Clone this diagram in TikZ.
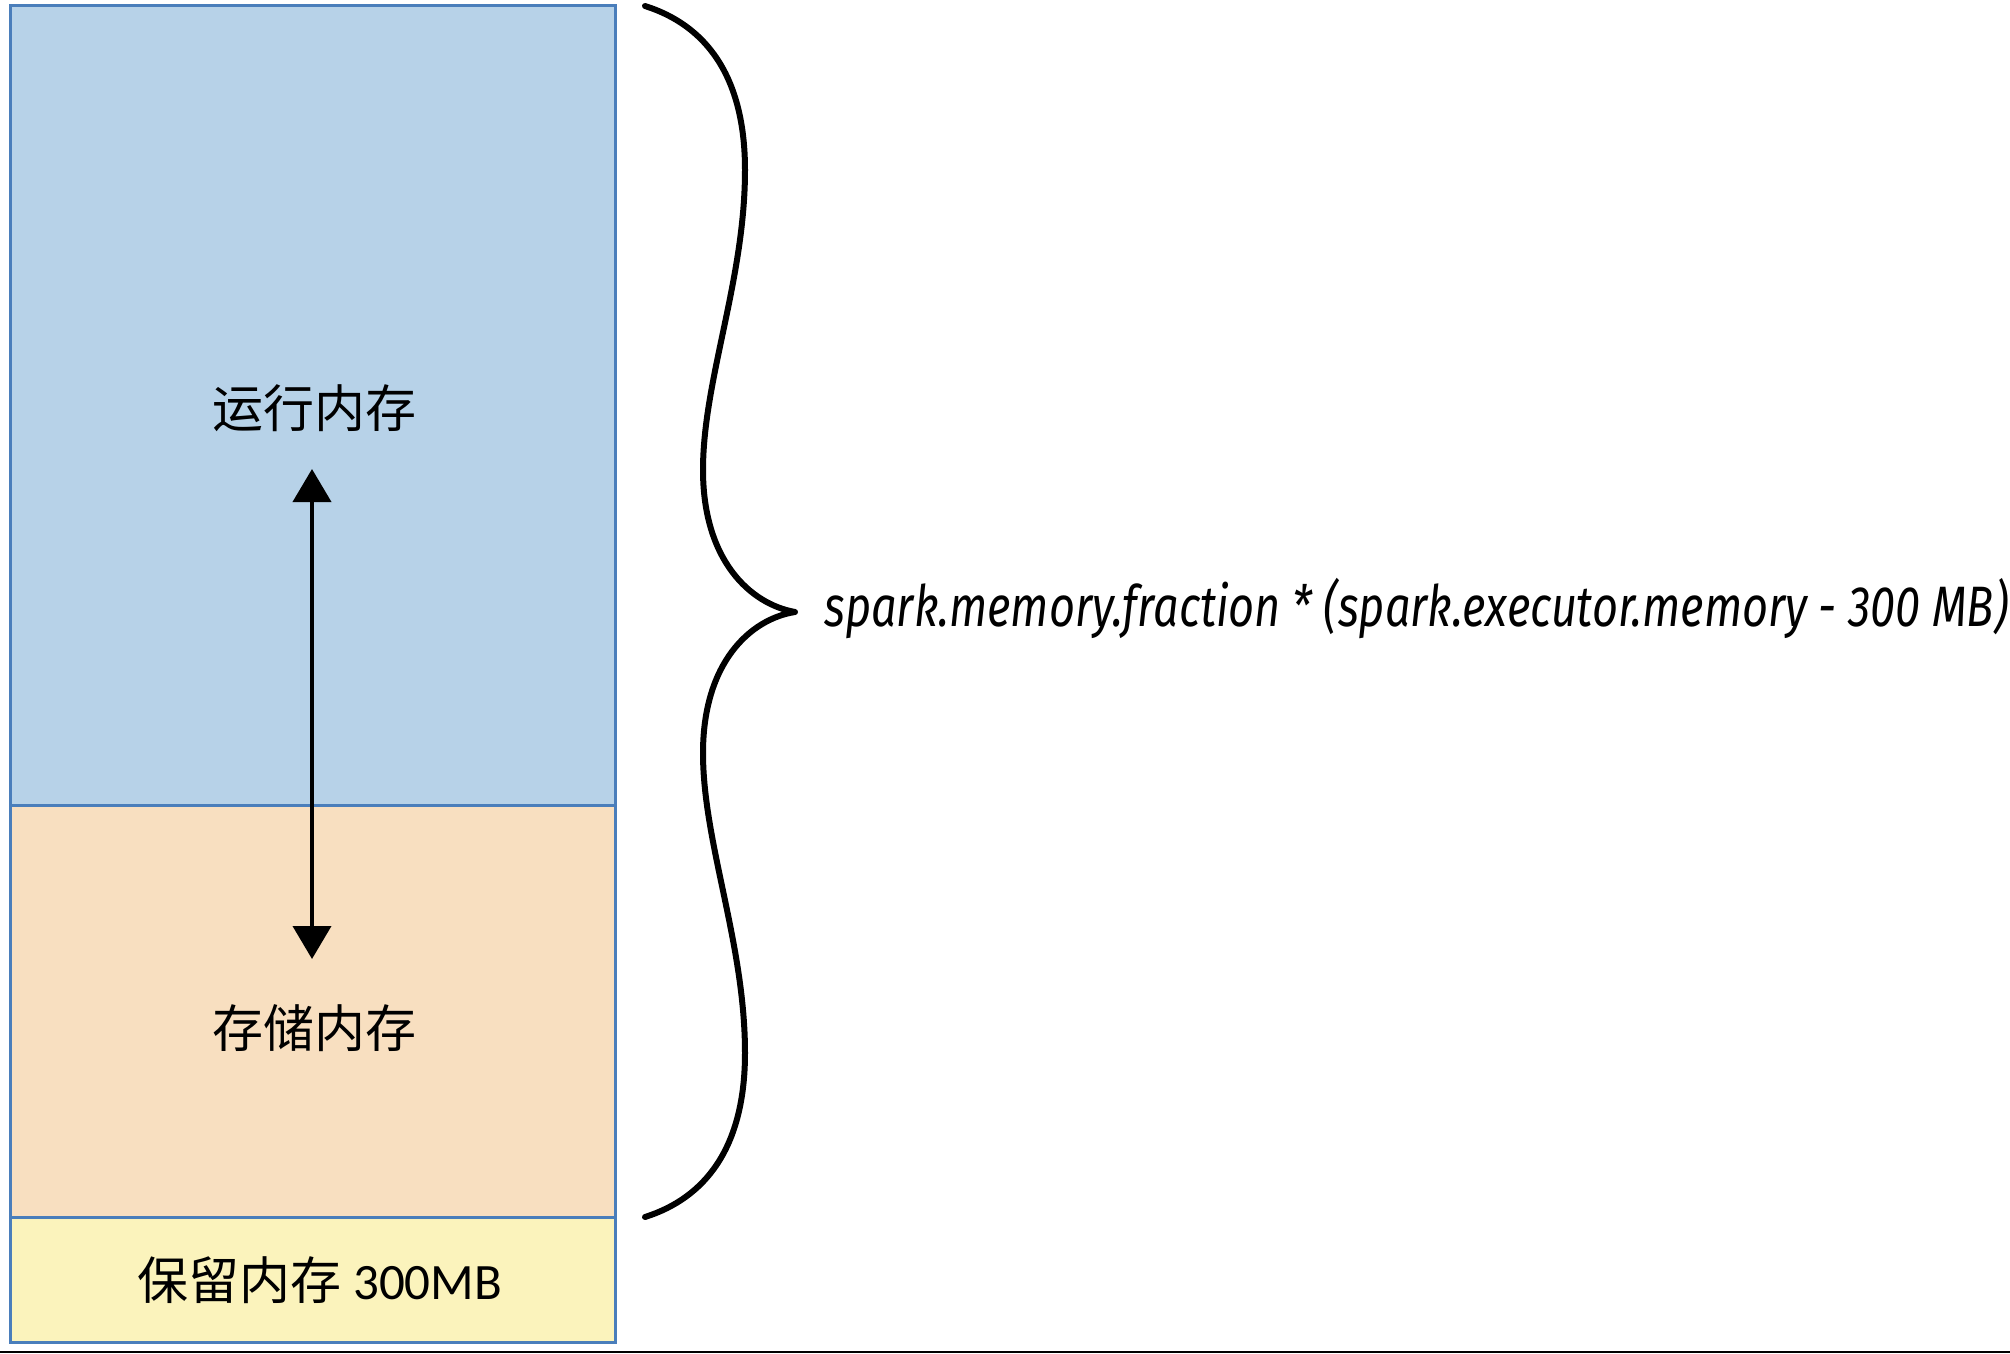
\documentclass[tikz,border=0pt]{standalone}
\usepackage{fontspec}
\usepackage{graphicx}
\usetikzlibrary{arrows.meta}
\newfontfamily\cjk{Noto Sans CJK SC}
\newfontfamily\latinfont{Carlito}
\newfontfamily\labelfont{Fira Sans}
\definecolor{execblue}{HTML}{B7D2E8}
\definecolor{storeorange}{HTML}{F8DFC0}
\definecolor{resyellow}{HTML}{FBF3BC}
\definecolor{borderblue}{HTML}{4A7EBB}
\tikzset{
  region/.style={draw=borderblue,line width=1.5pt},
  cjklabel/.style={font=\cjk\fontsize{25.5pt}{30pt}\selectfont,inner sep=0pt},
  bracestyle/.style={line width=3pt,line cap=round,line join=round},
  swaparrow/.style={line width=2pt,{Triangle[width=19pt,length=16.5pt]}-{Triangle[width=19pt,length=16.5pt]}}
}
\begin{document}
\begin{tikzpicture}[x=0.5pt,y=-0.5pt]
\useasboundingbox (0,0) rectangle (2010,1354);
% regions
\fill[execblue] (10,6) rectangle (615,805);
\fill[storeorange] (10,805) rectangle (615,1217);
\fill[resyellow] (10,1217) rectangle (615,1342);
\draw[region] (10,6) rectangle (615,1342);
\draw[region] (10,805) -- (615,805);
\draw[region] (10,1217) -- (615,1217);
% labels
\node[cjklabel] (exec) at (314,408) {运行内存};
\node[cjklabel] (store) at (314,1028) {存储内存};
\node[cjklabel] (reserved) at (320,1280) {保留内存 {\latinfont 300MB}};
% arrow
\coordinate (atop) at (312,469);
\coordinate (abot) at (312,959);
\draw[swaparrow] (atop) -- (abot);
% brace
\coordinate (btop) at (645,6);
\coordinate (btip) at (795,612);
\coordinate (bbot) at (645,1217);
\draw[bracestyle] (btop) .. controls (705,25) and (745,75) .. (745,170)
  .. controls (745,280) and (703,380) .. (703,470)
  .. controls (703,560) and (750,604) .. (btip)
  .. controls (750,619) and (703,663) .. (703,753)
  .. controls (703,843) and (745,943) .. (745,1053)
  .. controls (745,1148) and (705,1198) .. (bbot);
% formula
\node[anchor=base west,inner sep=0pt] (formula) at (824,626)
  {\resizebox{592pt}{\height}{\labelfont\itshape\fontsize{28.5pt}{32pt}\selectfont spark.memory.fraction * (spark.executor.memory - 300 MB)}};
% bottom edge line
\coordinate (el) at (0,1352);
\coordinate (er) at (2010,1352);
\draw[line width=1pt] (el) -- (er);
\end{tikzpicture}
\end{document}
